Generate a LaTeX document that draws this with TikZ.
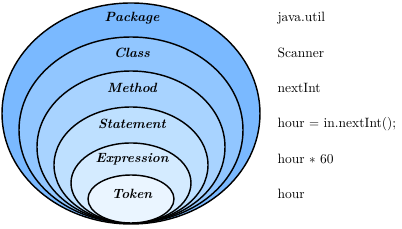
\documentclass[tikz,border=0pt]{standalone}
\usetikzlibrary{positioning}

\definecolor{lvPackage}{RGB}{122,185,255}
\definecolor{lvClass}{RGB}{145,198,255}
\definecolor{lvMethod}{RGB}{168,211,255}
\definecolor{lvStatement}{RGB}{190,224,255}
\definecolor{lvExpression}{RGB}{212,235,255}
\definecolor{lvToken}{RGB}{234,245,255}

\begin{document}
\begin{tikzpicture}[
        x=0.77pt, y=-0.77pt,
        level/.style={draw=black, line width=1.1pt},
        title/.style={font=\fontsize{10.3}{12}\selectfont\bfseries\itshape, inner sep=1pt},
        example/.style={anchor=west, inner sep=1pt, font=\fontsize{10.4}{12}\selectfont}
    ]
        \useasboundingbox (0,0) rectangle (402,229);

        \fill[lvPackage, level] (131,113.5) ellipse [x radius=129, y radius=110.5];
        \fill[lvClass, level] (131,130) ellipse [x radius=112, y radius=93];
        \fill[lvMethod, level] (131,147) ellipse [x radius=94, y radius=76];
        \fill[lvStatement, level] (131,165) ellipse [x radius=77, y radius=58];
        \fill[lvExpression, level] (131,183) ellipse [x radius=60, y radius=40];
        \fill[lvToken, level] (131,199) ellipse [x radius=43, y radius=24];

        \node[title] (package) at (132,18) {Package};
        \node[title] (class) at (132,53) {Class};
        \node[title] (method) at (132,88) {Method};
        \node[title] (statement) at (132,124) {Statement};
        \node[title] (expression) at (132,159) {Expression};
        \node[title] (token) at (132,194) {Token};

        \node[example] (javautil) at (276,18) {java.util};
        \node[example] (scanner) at (276,53) {Scanner};
        \node[example] (nextint) at (276,88) {nextInt};
        \node[example] (assign) at (276,124) {hour $=$ in.nextInt();};
        \node[example] (expr) at (276,159) {hour $*$ 60};
        \node[example] (hourtok) at (276,194) {hour};
    \end{tikzpicture}
\end{document}
